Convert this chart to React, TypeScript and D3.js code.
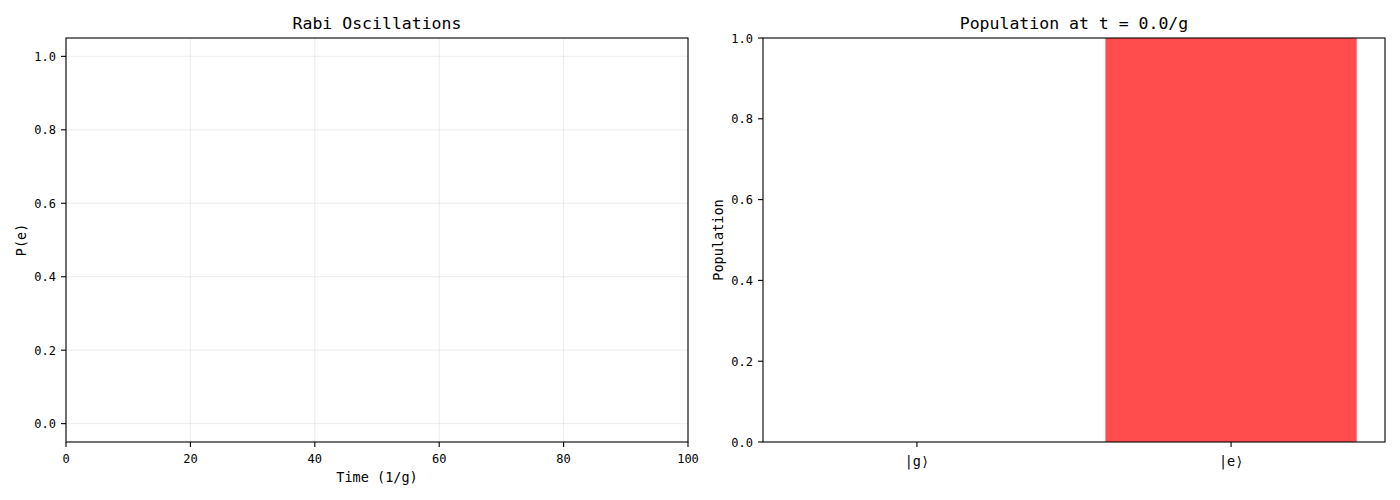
import * as d3 from "d3";

// left panel: P(e) vs time, nothing plotted yet at t = 0
const timeValues: number[] = [];
const peValues: number[] = [];
const timeTicks = [0, 20, 40, 60, 80, 100];
const peTicks = [0.0, 0.2, 0.4, 0.6, 0.8, 1.0];

// right panel: populations
const states = ["|g⟩", "|e⟩"];
const populations = [0.0, 1.0];
const stateColors = ["rgba(0,0,255,0.7)", "rgba(255,0,0,0.7)"];
const popTicks = [0.0, 0.2, 0.4, 0.6, 0.8, 1.0];

const W = 1400;
const H = 500;
const font = "'DejaVu Sans Mono', monospace";
const top = 38;
const bottom = 442;

export default function App() {
  const x1 = d3.scaleLinear().domain([0, 100]).range([66, 688]);
  const y1 = d3.scaleLinear().domain([-0.05, 1.05]).range([bottom, top]);
  const line = d3
    .line<number>()
    .x((_, i) => x1(timeValues[i]))
    .y((d) => y1(d));

  const x2 = d3.scaleLinear().domain([-0.49, 1.49]).range([763, 1385]);
  const y2 = d3.scaleLinear().domain([0, 1]).range([bottom, top]);
  const barW = x2(0.8) - x2(0);

  return (
    <svg
      width={W}
      height={H}
      style={{ position: "absolute", left: 0, top: 0, background: "#fff" }}
      fontFamily={font}
    >
      {/* ---- left: Rabi oscillations ---- */}
      <g>
        {timeTicks.map((t) => (
          <line key={"gx" + t} x1={x1(t)} x2={x1(t)} y1={top} y2={bottom} stroke="#b0b0b0" strokeOpacity={0.3} strokeWidth={0.8} />
        ))}
        {peTicks.map((t) => (
          <line key={"gy" + t} x1={66} x2={688} y1={y1(t)} y2={y1(t)} stroke="#b0b0b0" strokeOpacity={0.3} strokeWidth={0.8} />
        ))}
        <path d={line(peValues) || ""} fill="none" stroke="#1f77b4" strokeWidth={2} />
        <rect x={66} y={top} width={688 - 66} height={bottom - top} fill="none" stroke="#000" strokeWidth={1.1} />
        {timeTicks.map((t) => (
          <g key={"tx" + t}>
            <line x1={x1(t)} x2={x1(t)} y1={bottom} y2={bottom + 5} stroke="#000" strokeWidth={1.1} />
            <text x={x1(t)} y={bottom + 21} textAnchor="middle" fontSize={12}>{t}</text>
          </g>
        ))}
        {peTicks.map((t) => (
          <g key={"ty" + t}>
            <line x1={61} x2={66} y1={y1(t)} y2={y1(t)} stroke="#000" strokeWidth={1.1} />
            <text x={56} y={y1(t) + 4.5} textAnchor="end" fontSize={12}>{t.toFixed(1)}</text>
          </g>
        ))}
        <text x={377} y={29} textAnchor="middle" fontSize={16.5}>Rabi Oscillations</text>
        <text x={377} y={482} textAnchor="middle" fontSize={13.5}>Time (1/g)</text>
        <text transform={`translate(26,${(top + bottom) / 2}) rotate(-90)`} textAnchor="middle" fontSize={13.5}>P(e)</text>
      </g>

      {/* ---- right: populations ---- */}
      <g>
        {populations.map((p, i) => (
          <rect key={states[i]} x={x2(i) - barW / 2} y={y2(p)} width={barW} height={y2(0) - y2(p)} fill={stateColors[i]} />
        ))}
        <rect x={763} y={top} width={1385 - 763} height={bottom - top} fill="none" stroke="#000" strokeWidth={1.1} />
        {states.map((s, i) => (
          <g key={"sx" + s}>
            <line x1={x2(i)} x2={x2(i)} y1={bottom} y2={bottom + 5} stroke="#000" strokeWidth={1.1} />
            <text x={x2(i)} y={bottom + 24} textAnchor="middle" fontSize={13.5}>{s}</text>
          </g>
        ))}
        {popTicks.map((t) => (
          <g key={"py" + t}>
            <line x1={758} x2={763} y1={y2(t)} y2={y2(t)} stroke="#000" strokeWidth={1.1} />
            <text x={753} y={y2(t) + 4.5} textAnchor="end" fontSize={12}>{t.toFixed(1)}</text>
          </g>
        ))}
        <text x={1074} y={29} textAnchor="middle" fontSize={16.5}>Population at t = 0.0/g</text>
        <text transform={`translate(723,${(top + bottom) / 2}) rotate(-90)`} textAnchor="middle" fontSize={13.5}>Population</text>
      </g>
    </svg>
  );
}
